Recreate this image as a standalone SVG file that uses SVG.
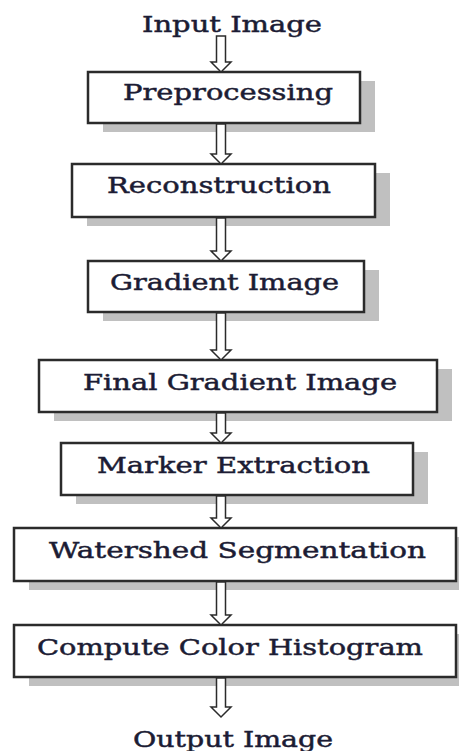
<svg xmlns="http://www.w3.org/2000/svg" width="459" height="751" viewBox="0 0 459 751">
<style>
.sh{fill:#c0c0c0}
.bx{fill:#fff;stroke:#2b2b2b;stroke-width:2.5}
.t{font-family:"DejaVu Serif","Liberation Serif",serif;font-size:22px;fill:#1c1c34;stroke:#1c1c34;stroke-width:0.45}
.ar{fill:#fff;stroke:#2b2b2b;stroke-width:1.5;stroke-linejoin:miter}
</style>
<rect width="459" height="751" fill="#fff"/>
<g id="input"><text class="t" x="142" y="32" textLength="180" lengthAdjust="spacingAndGlyphs">Input Image</text></g>
<g id="preprocessing"><rect class="sh" x="103" y="81" width="272" height="51"/><rect class="bx" x="88" y="72" width="272" height="51"/><text class="t" x="123" y="100" textLength="210" lengthAdjust="spacingAndGlyphs">Preprocessing</text></g>
<g id="reconstruction"><rect class="sh" x="87" y="173" width="303" height="53"/><rect class="bx" x="72" y="164" width="303" height="53"/><text class="t" x="107" y="193" textLength="224" lengthAdjust="spacingAndGlyphs">Reconstruction</text></g>
<g id="gradient"><rect class="sh" x="103" y="270" width="276" height="51"/><rect class="bx" x="88" y="261" width="276" height="51"/><text class="t" x="110" y="290" textLength="229" lengthAdjust="spacingAndGlyphs">Gradient Image</text></g>
<g id="final"><rect class="sh" x="54" y="369" width="398" height="52"/><rect class="bx" x="39" y="360" width="398" height="52"/><text class="t" x="83" y="390" textLength="314" lengthAdjust="spacingAndGlyphs">Final Gradient Image</text></g>
<g id="marker"><rect class="sh" x="76" y="452" width="352" height="52"/><rect class="bx" x="61" y="443" width="352" height="52"/><text class="t" x="97" y="473" textLength="273" lengthAdjust="spacingAndGlyphs">Marker Extraction</text></g>
<g id="watershed"><rect class="sh" x="29" y="537" width="442" height="53"/><rect class="bx" x="14" y="528" width="442" height="53"/><text class="t" x="49" y="558" textLength="377" lengthAdjust="spacingAndGlyphs">Watershed Segmentation</text></g>
<g id="histogram"><rect class="sh" x="29" y="634" width="442" height="52"/><rect class="bx" x="14" y="625" width="442" height="52"/><text class="t" x="37" y="655" textLength="386" lengthAdjust="spacingAndGlyphs">Compute Color Histogram</text></g>
<g id="output"><text class="t" x="133" y="747" textLength="200" lengthAdjust="spacingAndGlyphs">Output Image</text></g>
<g id="connectors">
<polygon class="ar" points="216.5,36 225.5,36 225.5,62 231,62 221,72 211,62 216.5,62"/>
<polygon class="ar" points="216.5,124 225.5,124 225.5,154 231,154 221,164 211,154 216.5,154"/>
<polygon class="ar" points="216.5,218 225.5,218 225.5,251 231,251 221,261 211,251 216.5,251"/>
<polygon class="ar" points="216.5,313 225.5,313 225.5,350 231,350 221,360 211,350 216.5,350"/>
<polygon class="ar" points="216.5,413 225.5,413 225.5,433 231,433 221,443 211,433 216.5,433"/>
<polygon class="ar" points="216.5,496 225.5,496 225.5,518 231,518 221,528 211,518 216.5,518"/>
<polygon class="ar" points="216.5,582 225.5,582 225.5,615 231,615 221,625 211,615 216.5,615"/>
<polygon class="ar" points="216.5,678 225.5,678 225.5,707 231,707 221,717 211,707 216.5,707"/>
</g>
</svg>
